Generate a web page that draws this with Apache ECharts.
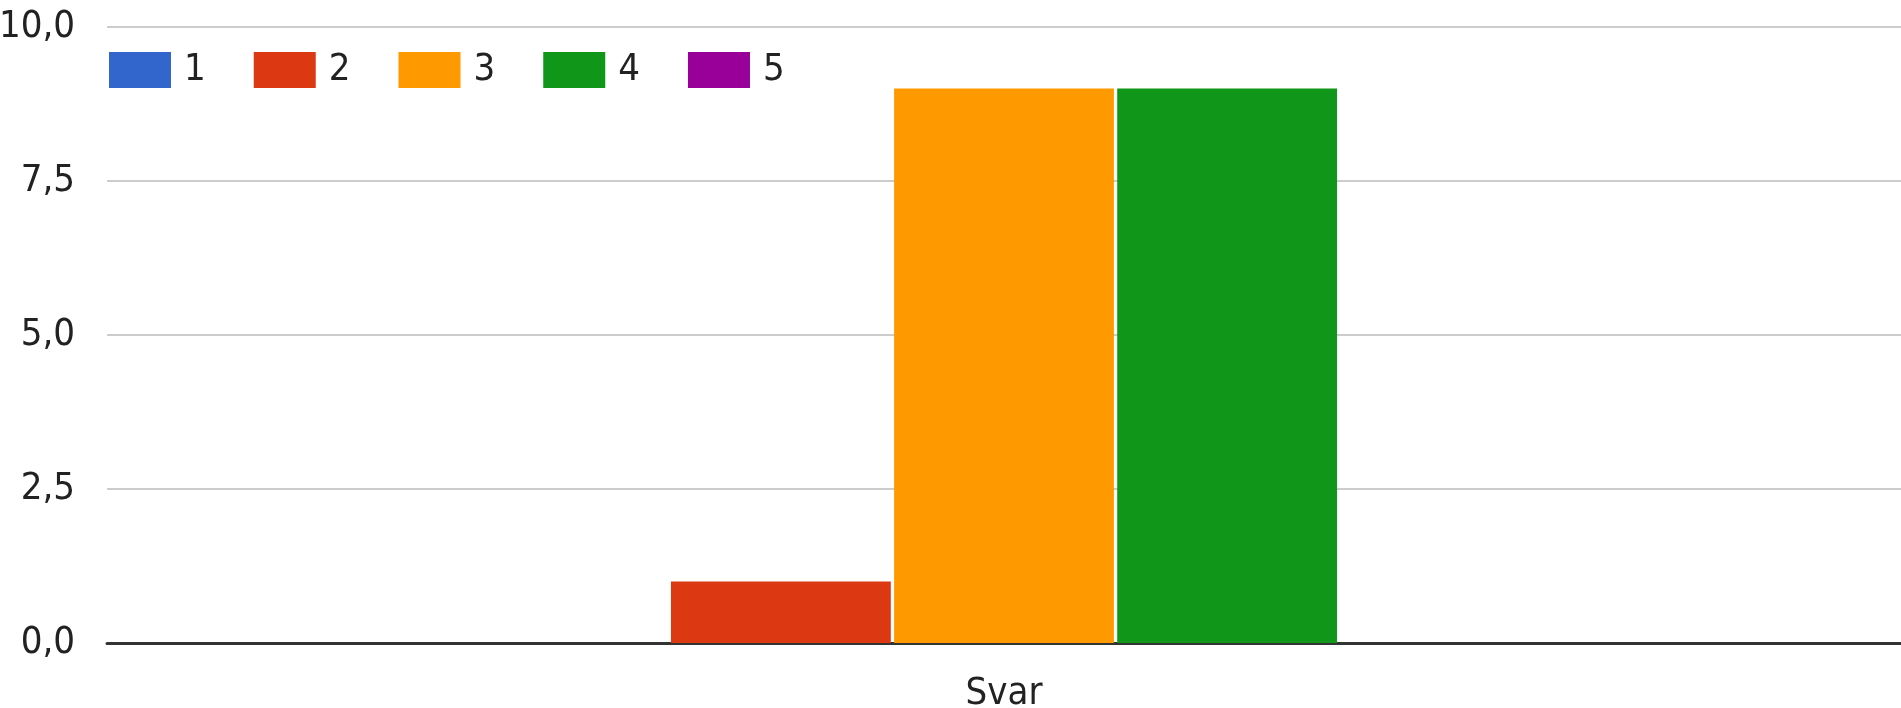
<!DOCTYPE html>
<html>
<head>
<meta charset="utf-8">
<script src="https://cdn.jsdelivr.net/npm/echarts@6/dist/echarts.min.js"></script>
<style>html,body{margin:0;padding:0;background:#fff}#c{width:1901px;height:708px}</style>
</head>
<body>
<div id="c"></div>
<script>
const categories = ['Svar'];
const seriesNames = ['1', '2', '3', '4', '5'];
const seriesColors = ['#3366cc', '#dc3912', '#ff9900', '#109618', '#990099'];
const values1 = [0];
const values2 = [1];
const values3 = [9];
const values4 = [9];
const values5 = [0];
const yTicks = [0, 2.5, 5, 7.5, 10];

const allValues = [values1, values2, values3, values4, values5];
const FONT = "'DejaVu Sans Condensed', 'Liberation Sans Narrow', Roboto, sans-serif";
const chart = echarts.init(document.getElementById('c'));
chart.setOption({
  animation: false,
  color: seriesColors,
  textStyle: { fontFamily: FONT },
  legend: {
    left: 104, top: 46,
    itemWidth: 62, itemHeight: 36, itemGap: 48,
    icon: 'rect',
    textStyle: { fontFamily: FONT, fontSize: 38, color: '#222', padding: [0, 0, 0, 8] },
    data: seriesNames
  },
  grid: { left: 107, right: 0, top: 27, bottom: 65, containLabel: false, outerBoundsMode: 'none' },
  xAxis: {
    type: 'category', data: categories,
    axisLine: { lineStyle: { color: '#333', width: 3 } },
    axisTick: { show: false },
    axisLabel: { fontFamily: FONT, fontSize: 38, color: '#222', margin: 32 }
  },
  yAxis: {
    type: 'value', min: yTicks[0], max: yTicks[yTicks.length - 1], interval: 2.5,
    axisLine: { show: false }, axisTick: { show: false },
    splitLine: { lineStyle: { color: '#cccccc', width: 2 } },
    axisLabel: {
      fontFamily: FONT, fontSize: 38, color: '#222', margin: 32,
      formatter: v => v.toFixed(1).replace('.', ',')
    }
  },
  series: seriesNames.map((n, i) => ({
    name: n, type: 'bar', data: allValues[i],
    barCategoryGap: '38%', barGap: '1.5%',
    itemStyle: { color: seriesColors[i] }
  }))
});
</script>
</body>
</html>
